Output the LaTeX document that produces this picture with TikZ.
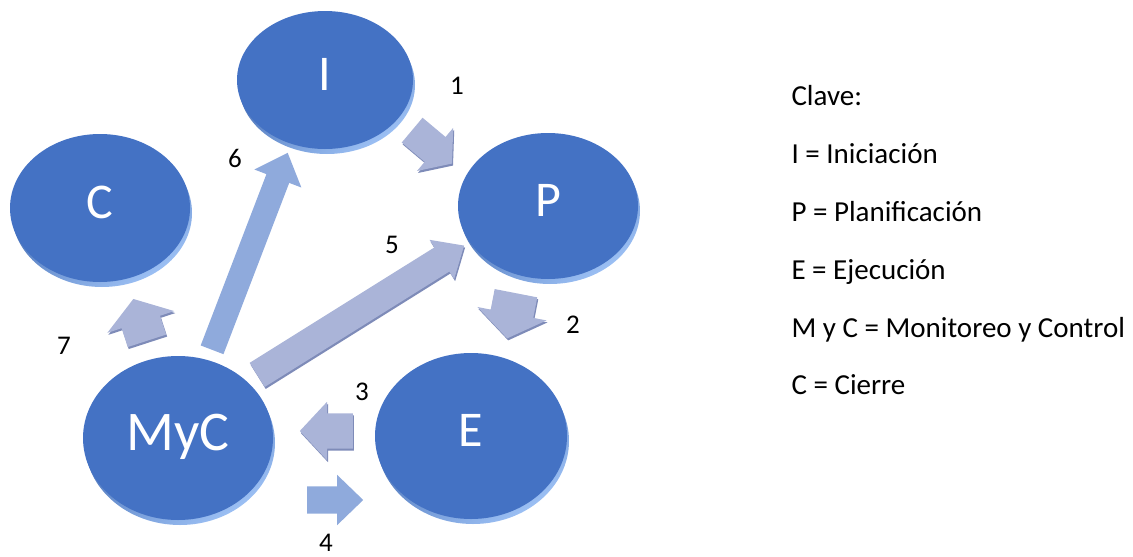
\documentclass[tikz,border=0pt]{standalone}
\usepackage{fontspec}
\setmainfont{Carlito}
\usetikzlibrary{shapes.geometric,shapes.arrows,shadows}

\definecolor{disco}{HTML}{4472C4}
\definecolor{bordeoscuro}{HTML}{2E58A3}
\definecolor{bordeclaro}{HTML}{9CC0F4}
\definecolor{gris}{HTML}{AAB4D8}
\definecolor{grissombra}{HTML}{7E8BB8}
\definecolor{azulplano}{HTML}{8FAADC}

\tikzset{
  fase/.style={ellipse, fill=disco, text=white, inner sep=0pt, text depth=11pt,
    font=\fontsize{50}{60}\selectfont,
    general shadow={shadow xshift=2pt, shadow yshift=-5pt,
      top color=bordeoscuro, bottom color=bordeclaro, shading angle=35}},
  flecha/.style={single arrow, anchor=tail, inner xsep=0pt, minimum width=1pt},
  flecha3d/.style={flecha, fill=gris,
    general shadow={shadow xshift=1pt, shadow yshift=-2pt, fill=grissombra}},
  flechaplana/.style={flecha, fill=azulplano},
  num/.style={font=\fontsize{27}{32}\selectfont, text depth=0pt},
  clave/.style={anchor=base west, font=\fontsize{29}{35}\selectfont}
}

\begin{document}
\begin{tikzpicture}[x=1pt,y=-1pt]
\useasboundingbox (0,0) rectangle (1133,557);

% fases
\node[fase, minimum width=176pt, minimum height=138pt] (I) at (325,80) {I};
\node[fase, minimum width=180pt, minimum height=146pt] (P) at (548,206) {P};
\node[fase, minimum width=192pt, minimum height=166pt] (E) at (471,436) {E};
\node[fase, minimum width=190pt, minimum height=164pt, font=\fontsize{56}{64}\selectfont] (MyC) at (178,438) {MyC};
\node[fase, minimum width=180pt, minimum height=148pt] (C) at (100,208) {C};

% flechas, puestas por la cola (inner ysep = medio ancho del cuerpo)
\node[flecha3d, rotate=-40, minimum height=52pt, inner ysep=16pt,
  single arrow head extend=12pt, single arrow tip angle=104] (f1) at (412,130) {};
\node[flecha3d, rotate=-101, minimum height=46pt, inner ysep=21.5pt,
  single arrow head extend=13.5pt, single arrow tip angle=109] (f2) at (516,293) {};
\node[flecha3d, rotate=180, minimum height=53pt, inner ysep=17.5pt,
  single arrow head extend=11.5pt, single arrow tip angle=94] (f3) at (353,431) {};
\node[flechaplana, minimum height=56pt, inner ysep=13.5pt,
  single arrow head extend=11.5pt, single arrow tip angle=88] (f4) at (307,500) {};
\node[flecha3d, rotate=32, minimum height=244pt, inner ysep=14pt,
  single arrow head extend=9pt, single arrow tip angle=83] (f5) at (257,375) {};
\node[flechaplana, rotate=69, minimum height=211pt, inner ysep=12pt,
  single arrow head extend=13pt, single arrow tip angle=85] (f6) at (212,350) {};
\node[flecha3d, rotate=108, minimum height=44pt, inner ysep=20pt,
  single arrow head extend=15pt, single arrow tip angle=111] (f7) at (147,341) {};

% numeros
\node[num] (n1) at (457,86) {1};
\node[num] (n2) at (573,325) {2};
\node[num] (n3) at (362,392) {3};
\node[num] (n4) at (326,543) {4};
\node[num] (n5) at (392,245) {5};
\node[num] (n6) at (235,158) {6};
\node[num] (n7) at (64,346) {7};

% clave
\node[clave] (k0) at (788,105) {Clave:};
\node[clave] (k1) at (788,163) {I = Iniciación};
\node[clave] (k2) at (788,221) {P = Planificación};
\node[clave] (k3) at (788,279) {E = Ejecución};
\node[clave] (k4) at (788,337) {M y C = Monitoreo y Control};
\node[clave] (k5) at (788,394) {C = Cierre};
\end{tikzpicture}
\end{document}
